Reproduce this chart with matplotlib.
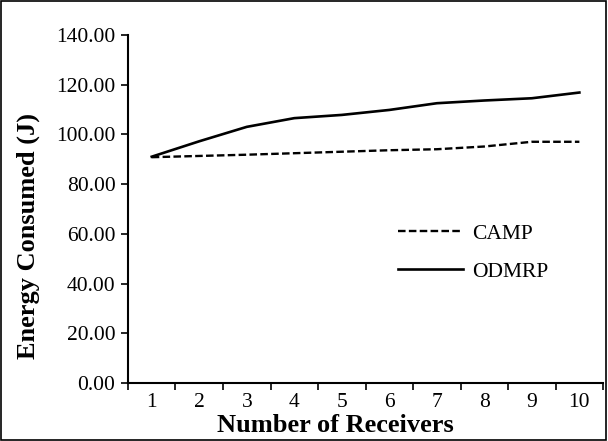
import matplotlib.pyplot as plt
import numpy as np

receivers = [1, 2, 3, 4, 5, 6, 7, 8, 9, 10]
camp = [90.8, 91.3, 91.8, 92.4, 93.0, 93.6, 94.0, 95.1, 97.0, 97.0]
odmrp = [91.0, 97.2, 103.0, 106.5, 107.8, 109.8, 112.5, 113.6, 114.5, 116.8]

plt.rcParams['font.family'] = ['Liberation Serif', 'DejaVu Serif']

fig = plt.figure(figsize=(6.08, 4.41), dpi=100)
ax = fig.add_axes([0.2105, 0.1315, 0.7815, 0.7895])

ax.plot(receivers, camp, color='black', lw=1.7, ls=(0, (3.2, 1.4)), label='CAMP')
ax.plot(receivers, odmrp, color='black', lw=1.9, label='ODMRP')

ax.set_xlim(0.5, 10.5)
ax.set_ylim(0, 140)
ax.set_yticks(np.arange(0, 141, 20))
ax.set_yticklabels(['%.2f' % v for v in np.arange(0, 141, 20)], fontsize=15.5)
ax.set_xticks(receivers)
ax.set_xticklabels([str(r) for r in receivers], fontsize=15.5)
ax.set_xticks(np.arange(0.5, 11, 1), minor=True)
ax.tick_params(axis='x', which='major', length=0, pad=7)
ax.tick_params(axis='x', which='minor', direction='out', length=5, width=1.2)
ax.tick_params(axis='y', direction='out', length=5, width=1.2, pad=4)

ax.spines['top'].set_visible(False)
ax.spines['right'].set_visible(False)
ax.spines['left'].set_linewidth(1.5)
ax.spines['bottom'].set_linewidth(1.5)

ax.set_xlabel('Number of Receivers', fontsize=19, fontweight='bold')
ax.set_ylabel('Energy Consumed (J)', fontsize=19, fontweight='bold')
ax.xaxis.set_label_coords(0.436, -0.09)
ax.yaxis.set_label_coords(-0.185, 0.422)

ax.legend(loc='center left', bbox_to_anchor=(0.6546, 0.4274), frameon=False,
          fontsize=15.5, handlelength=3.0, handletextpad=0.45, labelspacing=0.83,
          borderpad=0, borderaxespad=0, bbox_transform=fig.transFigure)

# chart border
fig.patches.append(plt.Rectangle((0.002, 0.003), 0.995, 0.994, transform=fig.transFigure,
                                 fill=False, edgecolor='black', lw=1.2))

fig.savefig('out.png', dpi=100)
